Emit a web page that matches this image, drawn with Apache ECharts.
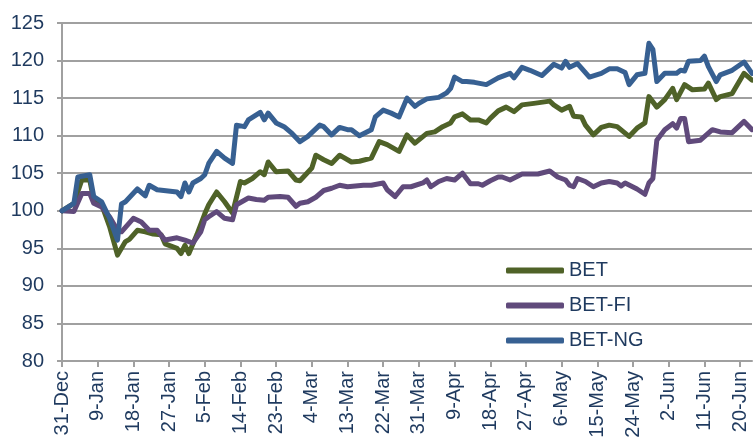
<!DOCTYPE html>
<html>
<head>
<meta charset="utf-8">
<script src="https://cdn.jsdelivr.net/npm/echarts@6/dist/echarts.min.js"></script>
<style>
  html, body { margin: 0; padding: 0; background: #fff; }
  #chart { width: 753px; height: 442px; }
</style>
</head>
<body>
<div id="chart"></div>
<script>
// day offsets from 31-Dec
const betDays = [0, 3, 5, 7, 8, 10, 12, 14, 16, 17, 19, 21, 23, 25, 26, 29, 30, 31, 32, 34, 36, 37, 39, 41, 43, 45, 46, 48, 50, 51, 52, 54, 57, 59, 60, 63, 64, 66, 68, 70, 73, 75, 78, 80, 82, 85, 87, 89, 92, 94, 96, 98, 99, 101, 103, 105, 107, 108, 110, 112, 114, 116, 119, 123, 124, 126, 128, 129, 131, 132, 134, 136, 138, 140, 143, 145, 147, 148, 150, 152, 154, 155, 157, 159, 162, 163, 165, 166, 169, 172, 174]
const betValues = [100, 101.0, 104.1, 104.1, 101.4, 100.8, 97.9, 94.1, 95.9, 96.2, 97.4, 97.2, 96.9, 96.8, 95.6, 95.0, 94.3, 95.4, 94.3, 96.8, 99.6, 100.8, 102.5, 101.2, 99.7, 103.9, 103.7, 104.3, 105.2, 104.8, 106.5, 105.2, 105.3, 104.1, 104.0, 105.7, 107.4, 106.8, 106.3, 107.4, 106.5, 106.6, 107.0, 109.2, 108.8, 107.9, 110.1, 109.0, 110.3, 110.5, 111.2, 111.7, 112.5, 112.9, 112.1, 112.1, 111.7, 112.3, 113.3, 113.8, 113.2, 114.1, 114.3, 114.6, 114.1, 113.4, 113.9, 112.6, 112.5, 111.4, 110.1, 111.1, 111.4, 111.2, 109.9, 111.0, 111.7, 115.2, 113.8, 114.8, 116.3, 114.8, 116.8, 116.1, 116.2, 117.0, 114.8, 115.2, 115.6, 118.3, 117.4]

const fiDays = [0, 3, 5, 7, 8, 10, 12, 14, 15, 18, 20, 22, 24, 26, 29, 31, 33, 35, 36, 37, 39, 41, 43, 44, 47, 49, 51, 52, 55, 57, 59, 60, 62, 64, 66, 68, 70, 72, 76, 78, 81, 82, 84, 86, 88, 91, 92, 93, 95, 97, 99, 101, 103, 105, 106, 108, 110, 111, 113, 116, 120, 123, 125, 127, 128, 129, 130, 132, 134, 136, 138, 140, 141, 142, 145, 147, 148, 149, 150, 152, 154, 155, 156, 157, 158, 161, 164, 166, 169, 172, 174]
const fiValues = [100, 99.9, 102.3, 102.3, 101.0, 100.5, 99.2, 97.4, 97.2, 99.0, 98.5, 97.4, 97.4, 96.1, 96.4, 96.1, 95.7, 97.2, 98.8, 99.2, 99.9, 99.0, 98.8, 100.8, 101.7, 101.5, 101.4, 101.8, 101.9, 101.8, 100.6, 101.0, 101.2, 101.8, 102.7, 103.0, 103.4, 103.2, 103.4, 103.4, 103.7, 102.8, 101.9, 103.2, 103.2, 103.7, 104.1, 103.2, 103.9, 104.3, 104.1, 105.0, 103.6, 103.6, 103.4, 104.0, 104.5, 104.5, 104.1, 104.9, 104.9, 105.3, 104.5, 104.1, 103.4, 103.2, 104.3, 103.9, 103.2, 103.7, 103.9, 103.7, 103.3, 103.7, 102.9, 102.2, 103.7, 104.3, 109.4, 110.8, 111.6, 111.0, 112.3, 112.3, 109.2, 109.4, 110.8, 110.5, 110.4, 111.9, 110.8]

const ngDays = [0, 3, 4, 7, 8, 10, 12, 14, 15, 16, 19, 21, 22, 24, 29, 30, 31, 32, 33, 35, 36, 37, 39, 41, 43, 44, 46, 47, 50, 51, 52, 54, 56, 58, 60, 62, 65, 66, 68, 70, 72, 73, 75, 78, 79, 81, 83, 85, 87, 89, 90, 92, 95, 97, 98, 99, 101, 102, 104, 107, 110, 113, 114, 116, 118, 121, 124, 126, 127, 128, 130, 131, 133, 136, 138, 140, 142, 143, 145, 147, 148, 149, 150, 152, 155, 156, 157, 158, 161, 162, 163, 165, 166, 169, 172, 174]
const ngValues = [100, 101.0, 104.5, 104.8, 101.9, 101.2, 99.0, 96.1, 100.9, 101.2, 102.9, 102.0, 103.4, 102.8, 102.5, 101.9, 103.7, 102.5, 103.7, 104.3, 104.8, 106.3, 107.9, 107.0, 106.3, 111.4, 111.2, 112.1, 113.1, 112.1, 113.0, 111.7, 111.2, 110.3, 109.2, 109.9, 111.4, 111.2, 110.1, 111.1, 110.8, 110.8, 110.0, 110.8, 112.5, 113.4, 113.0, 112.5, 115.0, 113.9, 114.3, 114.9, 115.1, 115.7, 116.3, 117.8, 117.2, 117.2, 117.1, 116.8, 117.7, 118.3, 117.7, 119.1, 118.7, 118.0, 119.5, 119.0, 119.9, 119.1, 119.6, 119.0, 117.8, 118.3, 118.9, 118.9, 118.4, 116.8, 118.1, 118.3, 122.3, 121.5, 117.2, 118.3, 118.3, 118.7, 118.6, 119.9, 120.0, 120.6, 119.2, 117.2, 118.1, 118.7, 119.8, 118.3]

const seriesNames = ['BET', 'BET-FI', 'BET-NG']
const seriesColors = ['#4F6228', '#604A7B', '#376092']

const yMin = 80
const yMax = 125
const yStep = 5

// calendar days 31-Dec .. 23-Jun
const monthNames = ['Jan', 'Feb', 'Mar', 'Apr', 'May', 'Jun', 'Jul', 'Aug', 'Sep', 'Oct', 'Nov', 'Dec']
const dayCount = 175
const categories = []
for (let i = 0; i < dayCount; i++) {
  const d = new Date(Date.UTC(2018, 11, 31 + i))
  categories.push(d.getUTCDate() + '-' + monthNames[d.getUTCMonth()])
}

function pairs(days, values) {
  return days.map((d, i) => [d, values[i]])
}

const textColor = '#1F3A5F'
const gridColor = '#A0A0A0'
const font = 'Liberation Sans, Arial, sans-serif'

const chart = echarts.init(document.getElementById('chart'))

const lineSeries = [
  pairs(betDays, betValues),
  pairs(fiDays, fiValues),
  pairs(ngDays, ngValues),
].map((data, i) => ({
  name: seriesNames[i],
  type: 'line',
  data: data,
  symbol: 'none',
  color: seriesColors[i],
  lineStyle: { width: 5, color: seriesColors[i], join: 'round', cap: 'round' },
}))

chart.setOption({
  animation: false,
  backgroundColor: '#fff',
  grid: { left: 62, right: 1, top: 23, bottom: 81 },
  legend: {
    orient: 'vertical',
    left: 501,
    top: 255,
    itemWidth: 58,
    itemHeight: 6,
    itemGap: 14,
    icon: 'roundRect',
    data: seriesNames,
    textStyle: { color: textColor, fontSize: 20, fontFamily: font, lineHeight: 21 },
  },
  xAxis: {
    type: 'category',
    data: categories,
    boundaryGap: false,
    axisLine: { lineStyle: { color: gridColor, width: 2 } },
    axisTick: { interval: 8, length: 6, lineStyle: { color: gridColor, width: 2 } },
    axisLabel: {
      interval: 8,
      rotate: 90,
      margin: 10,
      color: textColor,
      fontSize: 20,
      fontFamily: font,
    },
    splitLine: { show: false },
  },
  yAxis: {
    type: 'value',
    min: yMin,
    max: yMax,
    interval: yStep,
    axisLine: { show: true, lineStyle: { color: gridColor, width: 2 } },
    axisTick: { show: true, length: 5, lineStyle: { color: gridColor, width: 2 } },
    axisLabel: { color: textColor, fontSize: 20, fontFamily: font, margin: 18 },
    splitLine: { lineStyle: { color: gridColor, width: 2 } },
  },
  series: lineSeries,
})
</script>
</body>
</html>
